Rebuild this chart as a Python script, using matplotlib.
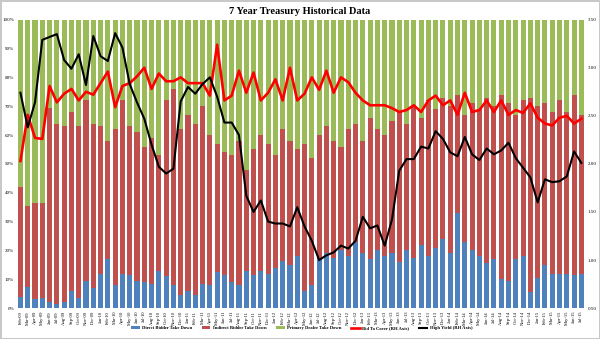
import numpy as np
import pandas as pd
import matplotlib
matplotlib.use("Agg")
import matplotlib.pyplot as plt
import matplotlib.ticker as mticker

# monthly 7 year note auctions, Feb-09 .. Jul-15
months = pd.date_range("2009-02-01", "2015-07-01", freq="MS")
month_labels = [m.strftime("%b-%y") for m in months]

# take down shares, percent of the auction
direct = [4, 7.5, 3, 3.5, 2, 1.5, 2, 6, 3.5, 9.5,
          7, 12, 17, 8, 12, 11.5, 9.5, 9, 8.5, 13,
          11, 8, 4.5, 6, 4.5, 8.5, 8, 12.5, 11.5, 9,
          8, 13, 11.5, 13, 12, 14, 16.5, 15, 18, 6,
          8, 17, 19, 17.5, 20, 18, 23, 19, 17, 20,
          18, 19, 16, 20, 17.5, 22, 18, 21, 24, 19,
          33, 23, 20, 18, 15.5, 17, 10, 9.5, 17, 18,
          5.5, 10.5, 15, 12, 12, 12, 11.5, 12]
indirect_top = [42, 35.5, 36.5, 36.5, 69.5, 64, 63, 68, 63, 72,
                64, 63, 58, 62, 72, 63, 61, 56, 59, 53,
                72, 76, 62, 67, 64, 70, 60, 57, 54, 53,
                58, 48, 55, 60, 57, 53, 62, 58, 55, 57,
                52, 60, 63, 58, 56, 62, 64, 58, 66, 62,
                60, 65, 68, 64, 70, 66, 72, 69, 73, 70,
                74, 67, 71, 69, 73, 70, 74, 71, 67, 72,
                73, 70, 71, 68, 72, 68, 74, 67]
indirect = [t - d for t, d in zip(indirect_top, direct)]
dealer = [100 - t for t in indirect_top]

bid_to_cover = [2.03, 2.51, 2.27, 2.26, 2.81, 2.64, 2.73, 2.78, 2.66, 2.75,
                2.72, 2.84, 2.96, 2.59, 2.81, 2.84, 2.91, 3.00, 2.78, 2.94,
                2.86, 2.86, 2.90, 2.84, 2.84, 2.84, 2.71, 3.24, 2.66, 2.71,
                2.97, 2.74, 2.95, 2.66, 2.74, 2.88, 2.66, 3.00, 2.66, 2.73,
                2.90, 2.77, 2.97, 2.74, 2.90, 2.85, 2.74, 2.66, 2.61, 2.61,
                2.61, 2.58, 2.54, 2.56, 2.61, 2.54, 2.66, 2.71, 2.61, 2.66,
                2.51, 2.74, 2.54, 2.56, 2.66, 2.54, 2.66, 2.51, 2.56, 2.53,
                2.63, 2.48, 2.42, 2.40, 2.48, 2.50, 2.42, 2.47]
high_yield = [2.74, 2.38, 2.64, 3.29, 3.32, 3.35, 3.08, 2.99, 3.14, 2.82,
              3.33, 3.12, 3.07, 3.36, 3.21, 2.83, 2.64, 2.47, 2.20, 1.97,
              1.90, 1.95, 2.65, 2.80, 2.73, 2.83, 2.90, 2.70, 2.43, 2.43,
              2.30, 1.67, 1.50, 1.62, 1.40, 1.38, 1.38, 1.35, 1.55, 1.35,
              1.20, 1.00, 1.05, 1.08, 1.15, 1.12, 1.20, 1.45, 1.33, 1.36,
              1.15, 1.42, 1.93, 2.05, 2.05, 2.18, 2.16, 2.34, 2.26, 2.12,
              2.08, 2.28, 2.10, 2.04, 2.16, 2.10, 2.14, 2.22, 2.06, 1.96,
              1.86, 1.60, 1.84, 1.81, 1.82, 1.87, 2.13, 2.01]

BLUE = "#4F81BD"
RED = "#C0504D"
GREEN = "#9BBB59"

serif = ["Liberation Serif", "DejaVu Serif"]
plt.rcParams["font.family"] = serif

fig = plt.figure(figsize=(6, 3.39), dpi=100, edgecolor="#C8C8C8", linewidth=1)
ax = fig.add_axes([0.028, 0.091, 0.947, 0.851])
ax2 = ax.twinx()

x = np.arange(len(months))
w = 0.7
b1 = ax.bar(x, direct, w, color=BLUE, label="Direct Bidder Take Down")
b2 = ax.bar(x, indirect, w, bottom=direct, color=RED,
            label="Indirect Bidder Take Down")
b3 = ax.bar(x, dealer, w, bottom=indirect_top, color=GREEN,
            label="Primary Dealer Take Down")

l1, = ax2.plot(x, bid_to_cover, color="#FF0000", lw=1.9,
               label="Bid To Cover (RH Axis)")
l2, = ax2.plot(x, high_yield, color="black", lw=1.5,
               label="High Yield (RH Axis)")

ax.set_xlim(-0.5, len(x) - 0.5)
ax.set_ylim(0, 100)
ax.set_yticks(np.arange(0, 101, 10))
ax.yaxis.set_major_formatter(mticker.FormatStrFormatter("%d%%"))
ax2.set_ylim(0.5, 3.5)
ax2.set_yticks(np.arange(0.5, 3.51, 0.5))
ax2.yaxis.set_major_formatter(mticker.FormatStrFormatter("%.2f"))

ax.set_xticks(x)
ax.set_xticklabels(month_labels, rotation=90, fontsize=3.3)
ax.tick_params(axis="x", length=0, pad=2)
ax.tick_params(axis="y", length=0, labelsize=3.6, pad=2)
ax2.tick_params(axis="y", length=0, labelsize=3.6, pad=2)

for a in (ax, ax2):
    for s in a.spines.values():
        s.set_visible(False)

fig.text(0.5, 0.966, "7 Year Treasury Historical Data", ha="center",
         va="center", fontsize=7.5, fontweight="bold")

fig.legend([b1, b2, b3, l1, l2],
           [h.get_label() for h in (b1, b2, b3, l1, l2)],
           loc="center", bbox_to_anchor=(0.503, 0.032), ncol=5,
           frameon=False, prop={"size": 3.3, "weight": "bold"},
           handlelength=1.8, handleheight=0.4, columnspacing=2.2,
           handletextpad=0.5)

fig.savefig("out.png", dpi=100)
